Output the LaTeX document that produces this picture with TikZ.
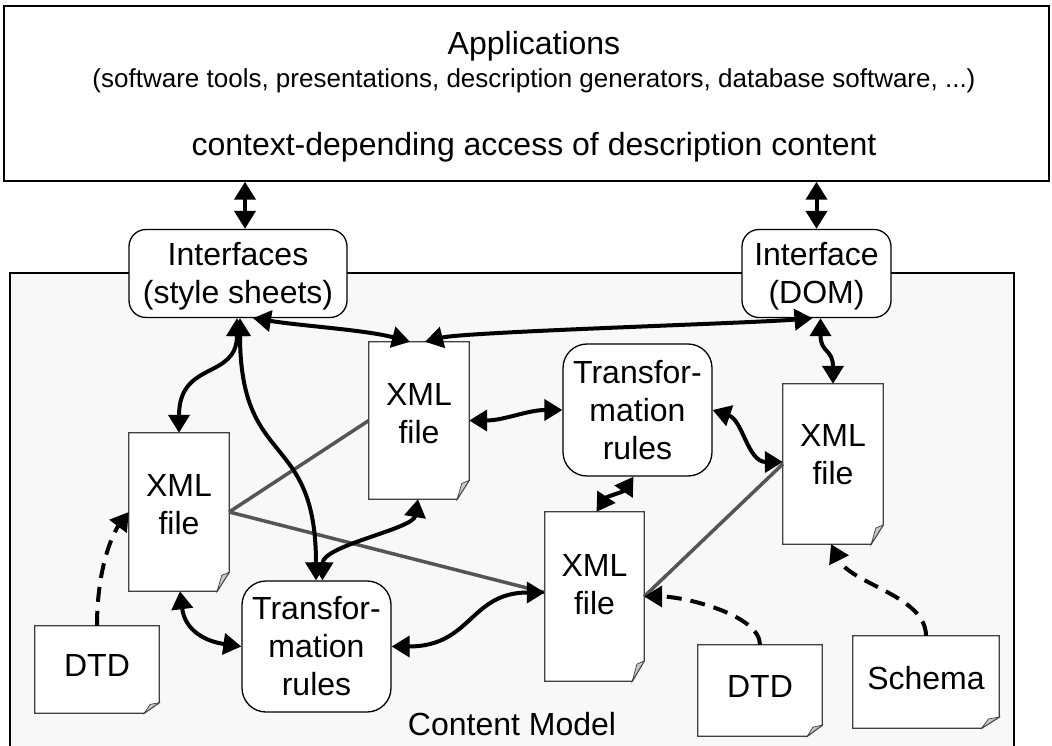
\documentclass[tikz,border=0pt]{standalone}
\usepackage{fontspec}
\setmainfont{Liberation Sans}
\usetikzlibrary{arrows.meta,calc}
\pgfdeclarelayer{background}
\pgfsetlayers{background,main}
\definecolor{cmfill}{HTML}{F8F8F8}
\definecolor{grayline}{HTML}{555555}
\definecolor{foldgray}{HTML}{C8C8C8}
\definecolor{docedge}{HTML}{404040}
\newcommand\bigf{\fontsize{32}{38}\selectfont}
\newcommand\subf{\fontsize{26}{31}\selectfont}
\newcommand\docshape[1]{%
  \path ($(#1.south east)!0.12!(#1.north east)$) coordinate (#1-a)
        ($(#1.south east)!0.12!(#1.south west)$) coordinate (#1-b);
  \path ($(#1-a)!0.3!(#1-b)$) coordinate (#1-p);
  \path ($(#1-p)!0.45!(#1-b |- #1-a)$) coordinate (#1-c);
  \begin{pgfonlayer}{background}
  \filldraw[docbody] (#1.south west) -- (#1.north west) -- (#1.north east) -- (#1-a) -- (#1-b) -- cycle;
  \filldraw[docfold] (#1-a) -- (#1-c) -- (#1-b) -- cycle;
  \end{pgfonlayer}}
\begin{document}
\begin{tikzpicture}[x=1pt,y=-1pt,
  box/.style={draw=black, line width=1.3pt, fill=white, rounded corners=17pt, inner sep=0pt, align=center, font=\bigf},
  trbox/.style={box, rounded corners=24pt},
  doc/.style={inner sep=0pt, align=center, font=\bigf},
  docbody/.style={fill=white, draw=docedge, line width=1.3pt},
  docfold/.style={fill=foldgray, draw=docedge, line width=0.7pt},
  dbl/.style={line width=4pt, {Triangle[length=18pt,width=21pt]}-{Triangle[length=18pt,width=21pt]}},
  dsh/.style={line width=4pt, dash pattern=on 15pt off 9pt, -{Triangle[length=18pt,width=21pt]}},
  gline/.style={line width=3.5pt, draw=grayline},
  txt/.style={inner sep=0pt, anchor=base}
]
\begin{pgfonlayer}{background}
\fill[white] (0,0) rectangle (1052,746);
\end{pgfonlayer}
\useasboundingbox (0,0) rectangle (1052,746);

% applications box
\node[draw=black, line width=1.5pt, fill=white, minimum width=1045pt, minimum height=175pt, inner sep=0pt] (apps) at (526.5,93.5) {};
\node[txt, font=\bigf] (appt) at (534,55) {Applications};
\node[txt, font=\subf] (appsub) at (534,88) {(software tools, presentations, description generators, database software, ...)};
\node[txt, font=\bigf] (appc) at (534,156) {context-depending access of description content};

% content model container
\begin{pgfonlayer}{background}
\node[fill=cmfill, draw=black, line width=1.2pt, minimum width=1004pt, minimum height=490pt, inner sep=0pt] (cm) at (512,518) {};
\end{pgfonlayer}
\node[txt, font=\bigf] (cml) at (512,735) {Content Model};

% interfaces
\node[box, minimum width=218pt, minimum height=88pt, text depth=2pt] (ifs) at (238,273.5) {Interfaces\\(style sheets)};
\node[box, minimum width=149pt, minimum height=88pt, text depth=2pt] (dom) at (816.5,273.5) {Interface\\(DOM)};

% transformation rules
\node[trbox, minimum width=149pt, minimum height=132pt] (tr1) at (637.5,410) {Transfor-\\mation\\rules};
\node[trbox, minimum width=149pt, minimum height=131pt] (tr2) at (316.5,646.5) {Transfor-\\mation\\rules};

% documents
\node[doc, minimum width=100pt, minimum height=158pt, text depth=15pt] (x1) at (179,512) {XML\\file};
\node[doc, minimum width=100pt, minimum height=157pt, text depth=15pt] (x2) at (419,420.5) {XML\\file};
\node[doc, minimum width=99pt, minimum height=169pt, text depth=24pt] (x3) at (594.5,596.5) {XML\\file};
\node[doc, minimum width=100pt, minimum height=160pt, text depth=19pt] (x4) at (833,464) {XML\\file};
\node[doc, minimum width=124pt, minimum height=87pt, text depth=8pt] (dtd1) at (97,669.5) {DTD};
\node[doc, minimum width=124pt, minimum height=91pt, text depth=8pt] (dtd2) at (760,690.5) {DTD};
\node[doc, minimum width=146pt, minimum height=92pt, text depth=8pt] (schema) at (926,682) {Schema};
\docshape{x1}\docshape{x2}\docshape{x3}\docshape{x4}
\docshape{dtd1}\docshape{dtd2}\docshape{schema}

% gray relations
\draw[gline] (x1.east) -- (x2.west);
\draw[gline] (x1.east) -- ($(x3.west)+(0,-4)$);
\draw[gline] (x3.east) -- (x4.west);

% applications <-> interfaces
\coordinate (ifsT) at ($(ifs.north)+(7,0)$);
\draw[dbl] (ifsT) -- (ifsT |- apps.south);
\draw[dbl] (dom.north) -- (dom.north |- apps.south);

% curved double arrows
\draw[dbl] ($(ifs.south)+(-1,0)$) .. controls +(0,62) and +(0,-73) .. (x1.north);
\draw[dbl] ($(ifs.south)+(2,0)$) .. controls +(0,152) and +(0,-151) .. ($(tr2.north)+(-0.5,0)$);
\draw[dbl] ($(ifs.south)+(15,0)$) .. controls +(50,8) and +(-45,-12) .. ($(x2.north)+(-9,0)$);
\draw[dbl] ($(x2.north)+(6,0)$) .. controls +(40,-10) and +(-60,5) .. ($(dom.south)+(-4,0)$);
\draw[dbl] ($(dom.south)+(4,0)$) .. controls +(0,35) and +(0,-35) .. (x4.north);
\draw[dbl] (x2.east) .. controls +(35,0) and +(-35,0) .. (tr1.west);
\draw[dbl] (tr1.east) .. controls +(30,10) and +(-35,0) .. ($(x4.west)+(0,-2)$);
\draw[dbl] ($(tr1.south)+(-4,0)$) .. controls +(-10,15) and +(10,-15) .. ($(x3.north)+(2,0)$);
\draw[dbl] ($(x2.south)+(-1,0)$) .. controls +(-5,30) and +(0,-35) .. ($(tr2.north)+(6,0)$);
\draw[dbl] ($(x1.south)+(1,0)$) .. controls +(5,40) and +(-35,-5) .. (tr2.west);
\draw[dbl] (tr2.east) .. controls +(80,0) and +(-75,0) .. ($(x3.west)+(0,-4)$);

% dashed schema arrows
\draw[dsh] (dtd1.north) .. controls +(0,-60) and +(-15,20) .. (x1.west);
\draw[dsh] (dtd2.north) .. controls +(0,-30) and +(40,0) .. (x3.east);
\draw[dsh] (schema.north) .. controls +(0,-40) and +(20,40) .. ($(x4.south)+(-2,0)$);
\end{tikzpicture}
\end{document}
